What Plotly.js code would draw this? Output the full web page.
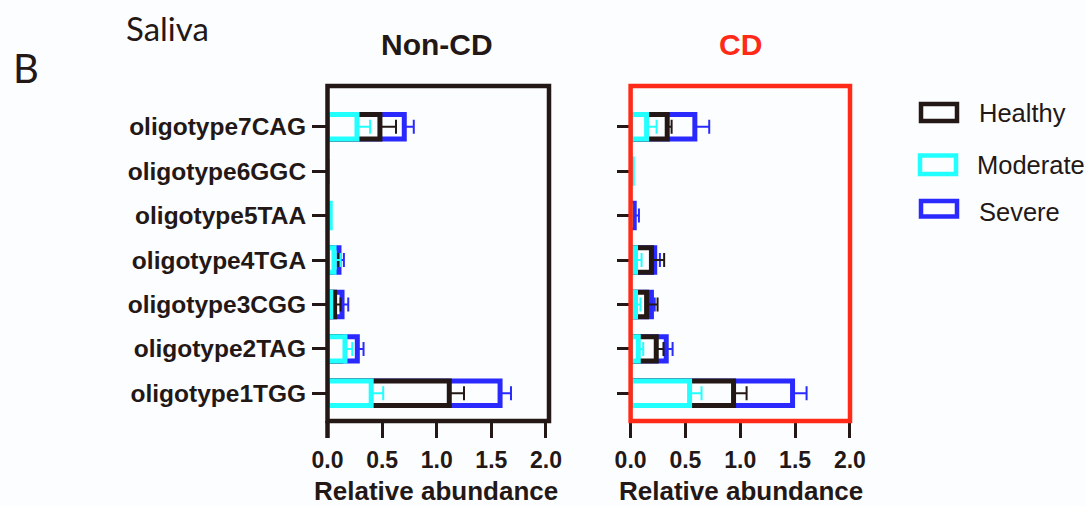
<!DOCTYPE html>
<html>
<head>
<meta charset="utf-8">
<script src="https://cdn.plot.ly/plotly-3.0.1.min.js"></script>
<style>html,body{margin:0;padding:0;background:#fcfdff;}#chart{width:1086px;height:506px;}</style>
</head>
<body>
<div id="chart"></div>
<script>
// Categories, bottom to top
const categories = ['oligotype1TGG','oligotype2TAG','oligotype3CGG','oligotype4TGA','oligotype5TAA','oligotype6GGC','oligotype7CAG'];
const seriesNames = ['Healthy','Moderate','Severe'];
const panelTitles = ['Non-CD','CD'];
const xTickVals = [0, 0.5, 1.0, 1.5, 2.0];
const xTickText = ['0.0','0.5','1.0','1.5','2.0'];

// Non-CD panel (mean, +SEM)
const healthyNonCD     = [1.115, 0.12, 0.065, 0.03, 0.0,   0.0, 0.48];
const healthyNonCDErr  = [0.135, 0.03, 0.055, 0.07, 0.0,   0.0, 0.147];
const moderateNonCD    = [0.40,  0.16, 0.03,  0.06, 0.025, 0.0, 0.27];
const moderateNonCDErr = [0.11,  0.067,0.01,  0.06, 0.0,   0.0, 0.12];
const severeNonCD      = [1.58,  0.273,0.133, 0.105,0.0,   0.0, 0.703];
const severeNonCDErr   = [0.10,  0.057,0.057, 0.045,0.0,   0.0, 0.087];

// CD panel (mean, +SEM)
const healthyCD     = [0.939, 0.234, 0.146, 0.19,  0.0,   0.0,   0.334];
const healthyCDErr  = [0.119, 0.066, 0.10,  0.116, 0.0,   0.0,   0.04];
const moderateCD    = [0.538, 0.07,  0.045, 0.045, 0.0,   0.015, 0.146];
const moderateCDErr = [0.109, 0.045, 0.045, 0.055, 0.0,   0.0,   0.091];
const severeCD      = [1.477, 0.325, 0.19,  0.22,  0.033, 0.0,   0.586];
const severeCDErr   = [0.128, 0.058, 0.03,  0.047, 0.043, 0.0,   0.131];

const noMinus = [0, 0, 0, 0, 0, 0, 0];

const INK = '#231815', CYAN = '#22ffff', BLUE = '#2a2aff', RED = '#ff2a17', BG = '#fcfdff';
const colorOf = {Healthy: INK, Moderate: CYAN, Severe: BLUE};

function barTrace(name, vals, errs, xa, ya) {
  const c = colorOf[name];
  return {
    type: 'bar', orientation: 'h', name: name, showlegend: false,
    x: vals, y: categories, xaxis: xa, yaxis: ya, width: 0.55,
    marker: {color: BG, line: {color: c, width: 5}},
    error_x: {type: 'data', symmetric: false, array: errs, arrayminus: noMinus,
              color: c, thickness: 2, width: 7},
    hoverinfo: 'x+name'
  };
}

// back to front: Severe, Healthy, Moderate
const data = [
  barTrace('Severe',   severeNonCD,   severeNonCDErr,   'x',  'y'),
  barTrace('Healthy',  healthyNonCD,  healthyNonCDErr,  'x',  'y'),
  barTrace('Moderate', moderateNonCD, moderateNonCDErr, 'x',  'y'),
  barTrace('Severe',   severeCD,      severeCDErr,      'x2', 'y2'),
  barTrace('Healthy',  healthyCD,     healthyCDErr,     'x2', 'y2'),
  barTrace('Moderate', moderateCD,    moderateCDErr,    'x2', 'y2')
];

const W = 1086, H = 506;
const px = v => v / W, py = v => (H - v) / H;
const yDom = [py(421), py(86)];
const yRange = [-0.623, 6.916];

const xAxisCommon = {
  tickvals: xTickVals, ticktext: xTickText, ticks: 'outside', ticklen: 16, tickwidth: 3,
  tickcolor: INK, showgrid: false, zeroline: false, showline: false, fixedrange: true,
  tickfont: {family: 'Liberation Sans, Arial, sans-serif', size: 23, color: INK, weight: 'bold'},
  ticklabelstandoff: 2
};
const yAxisCommon = {
  type: 'category', categoryorder: 'array', categoryarray: categories, range: yRange,
  domain: yDom, ticks: 'outside', tickwidth: 3, tickcolor: INK,
  showgrid: false, zeroline: false, showline: false, fixedrange: true
};

const layout = {
  width: W, height: H, margin: {l: 0, r: 0, t: 0, b: 0},
  paper_bgcolor: BG, plot_bgcolor: 'rgba(0,0,0,0)',
  barmode: 'overlay', showlegend: false,
  xaxis:  Object.assign({}, xAxisCommon, {domain: [px(327.5), px(549)], range: [0, 2.028], anchor: 'y'}),
  xaxis2: Object.assign({}, xAxisCommon, {domain: [px(630.6), px(850)], range: [0, 2.001], anchor: 'y2'}),
  yaxis:  Object.assign({}, yAxisCommon, {anchor: 'x', ticklen: 14.5, ticklabelstandoff: 1,
            tickfont: {family: 'Liberation Sans, Arial, sans-serif', size: 24.5, color: INK, weight: 'bold'}}),
  yaxis2: Object.assign({}, yAxisCommon, {anchor: 'x2', ticklen: 13, showticklabels: false}),
  shapes: [
    {type: 'rect', xref: 'x domain', yref: 'y domain', x0: 0, x1: 1, y0: 0, y1: 1,
     line: {color: INK, width: 4.5}, fillcolor: 'rgba(0,0,0,0)', layer: 'above'},
    {type: 'line', xref: 'x domain', yref: 'paper', x0: 0, x1: 0, y0: py(438), y1: py(421),
     line: {color: INK, width: 4.5}, layer: 'above'},
    {type: 'rect', xref: 'x2 domain', yref: 'y2 domain', x0: 0, x1: 1, y0: 0, y1: 1,
     line: {color: RED, width: 4.5}, fillcolor: 'rgba(0,0,0,0)', layer: 'above'},
    // legend swatches
    {type: 'rect', xref: 'paper', yref: 'paper', x0: px(921), x1: px(957), y0: py(104), y1: py(121),
     line: {color: colorOf[seriesNames[0]], width: 4.5}, fillcolor: BG},
    {type: 'rect', xref: 'paper', yref: 'paper', x0: px(920), x1: px(956), y0: py(155.5), y1: py(174),
     line: {color: colorOf[seriesNames[1]], width: 4.5}, fillcolor: BG},
    {type: 'rect', xref: 'paper', yref: 'paper', x0: px(921), x1: px(957), y0: py(201), y1: py(216.5),
     line: {color: colorOf[seriesNames[2]], width: 4.5}, fillcolor: BG}
  ],
  annotations: [
    {text: 'Saliva', xref: 'paper', yref: 'paper', x: px(124), y: py(27.5), xanchor: 'left', yanchor: 'middle',
     showarrow: false, font: {family: 'Lato, sans-serif', size: 33, color: INK}},
    {text: 'B', xref: 'paper', yref: 'paper', x: px(11), y: py(67.5), xanchor: 'left', yanchor: 'middle',
     showarrow: false, font: {family: 'Lato, sans-serif', size: 40, color: INK}},
    {text: panelTitles[0], xref: 'paper', yref: 'paper', x: px(437), y: py(44), xanchor: 'center', yanchor: 'middle',
     showarrow: false, font: {family: 'Liberation Sans, Arial, sans-serif', size: 30, color: INK, weight: 'bold'}},
    {text: panelTitles[1], xref: 'paper', yref: 'paper', x: px(740), y: py(44), xanchor: 'center', yanchor: 'middle',
     showarrow: false, font: {family: 'Liberation Sans, Arial, sans-serif', size: 30, color: RED, weight: 'bold'}},
    {text: 'Relative abundance', xref: 'paper', yref: 'paper', x: px(436), y: py(491), xanchor: 'center', yanchor: 'middle',
     showarrow: false, font: {family: 'Liberation Sans, Arial, sans-serif', size: 26, color: INK, weight: 'bold'}},
    {text: 'Relative abundance', xref: 'paper', yref: 'paper', x: px(740.5), y: py(491), xanchor: 'center', yanchor: 'middle',
     showarrow: false, font: {family: 'Liberation Sans, Arial, sans-serif', size: 26, color: INK, weight: 'bold'}},
    {text: seriesNames[0], xref: 'paper', yref: 'paper', x: px(976.5), y: py(112.5), xanchor: 'left', yanchor: 'middle',
     showarrow: false, font: {family: 'Liberation Sans, Arial, sans-serif', size: 25.5, color: INK}},
    {text: seriesNames[1], xref: 'paper', yref: 'paper', x: px(975), y: py(165), xanchor: 'left', yanchor: 'middle',
     showarrow: false, font: {family: 'Liberation Sans, Arial, sans-serif', size: 25.5, color: INK}},
    {text: seriesNames[2], xref: 'paper', yref: 'paper', x: px(976.5), y: py(211.5), xanchor: 'left', yanchor: 'middle',
     showarrow: false, font: {family: 'Liberation Sans, Arial, sans-serif', size: 25.5, color: INK}}
  ]
};

Plotly.newPlot('chart', data, layout, {displayModeBar: false, staticPlot: true});
</script>
</body>
</html>
